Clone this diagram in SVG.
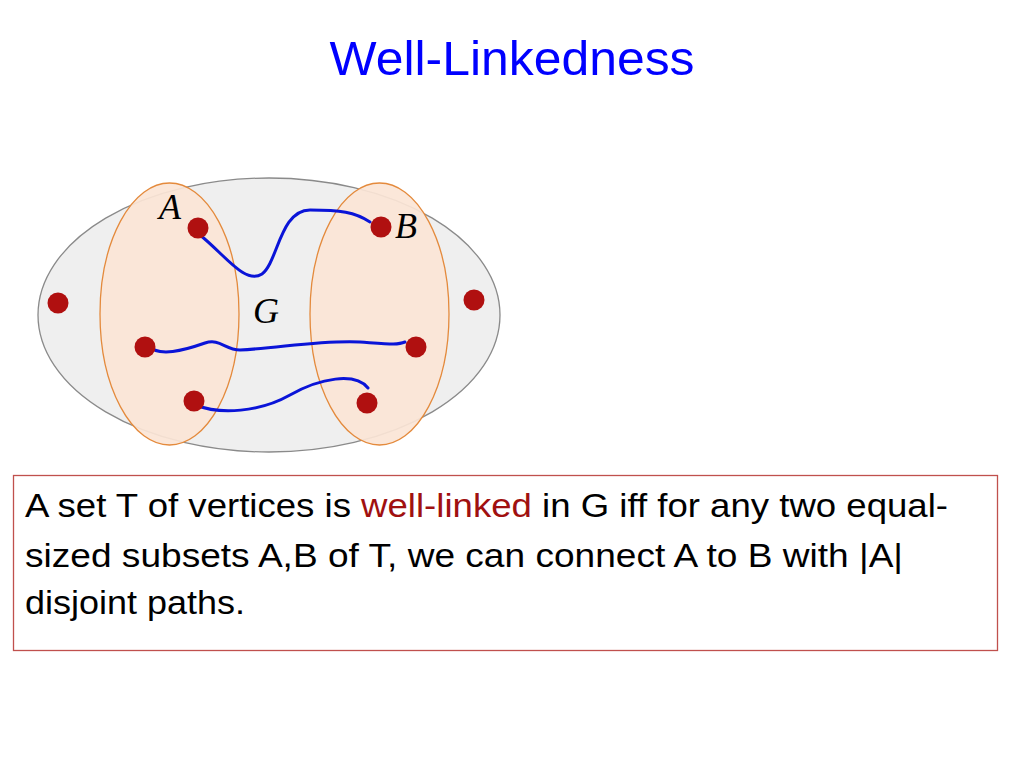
<svg xmlns="http://www.w3.org/2000/svg" width="1024" height="768" viewBox="0 0 1024 768">
<style>
.set{fill:#fbe5d6;fill-opacity:0.92;stroke:#e48a3c;stroke-width:1.3}
.dot{fill:#b01010}
.path{fill:none;stroke:#0a14d8;stroke-width:3;stroke-linecap:round}
.lbl{font-family:"Liberation Serif",serif;font-style:italic;font-size:36px;fill:#000}
.body{font-family:"Liberation Sans",sans-serif;font-size:33px;fill:#000}
</style>
<rect width="1024" height="768" fill="#fff"/>
<text x="512" y="75" text-anchor="middle" font-family="Liberation Sans, sans-serif" font-size="48" fill="#0000ff" textLength="365" lengthAdjust="spacingAndGlyphs">Well-Linkedness</text>
<g id="graph">
<ellipse cx="269" cy="315" rx="231" ry="137" fill="#efefef" stroke="#8a8a8a" stroke-width="1.3"/>
</g>
<g id="setA"><ellipse class="set" cx="169.5" cy="314" rx="69.5" ry="131"/></g>
<g id="setB"><ellipse class="set" cx="379.5" cy="314" rx="69.5" ry="131"/></g>
<g id="connectors">
<path class="path" d="M200,235 C225,255 245,285 262,274 C278,262 280,210 310,210 C340,210 355,212 370,222"/>
<path class="path" d="M148,345 C158,358 185,350 205,343 C220,338 225,350 240,350 C280,348 320,340 360,342 C390,344 398,345 405,342"/>
<path class="path" d="M196,405 C220,415 260,412 290,395 C320,378 355,372 368,388"/>
</g>
<g id="nodes">
<circle class="dot" cx="198" cy="228" r="10.5"/>
<circle class="dot" cx="381" cy="227" r="10.5"/>
<circle class="dot" cx="58" cy="303" r="10.5"/>
<circle class="dot" cx="474" cy="300" r="10.5"/>
<circle class="dot" cx="145" cy="347" r="10.5"/>
<circle class="dot" cx="416" cy="347" r="10.5"/>
<circle class="dot" cx="194" cy="401" r="10.5"/>
<circle class="dot" cx="367" cy="403" r="10.5"/>
</g>
<g id="labels">
<text class="lbl" x="159" y="219">A</text>
<text class="lbl" x="395" y="238">B</text>
<text class="lbl" x="253" y="323">G</text>
</g>
<g id="definition">
<rect x="13.5" y="475.5" width="984" height="175" fill="#fff" stroke="#c0504d" stroke-width="1.3"/>
<text class="body" x="25" y="517" textLength="923" lengthAdjust="spacingAndGlyphs">A set T of vertices is <tspan fill="#a01010">well-linked</tspan> in G iff for any two equal-</text>
<text class="body" x="25" y="567" textLength="878" lengthAdjust="spacingAndGlyphs">sized subsets A,B of T, we can connect A to B with |A|</text>
<text class="body" x="25" y="614" textLength="220" lengthAdjust="spacingAndGlyphs">disjoint paths.</text>
</g>
</svg>
